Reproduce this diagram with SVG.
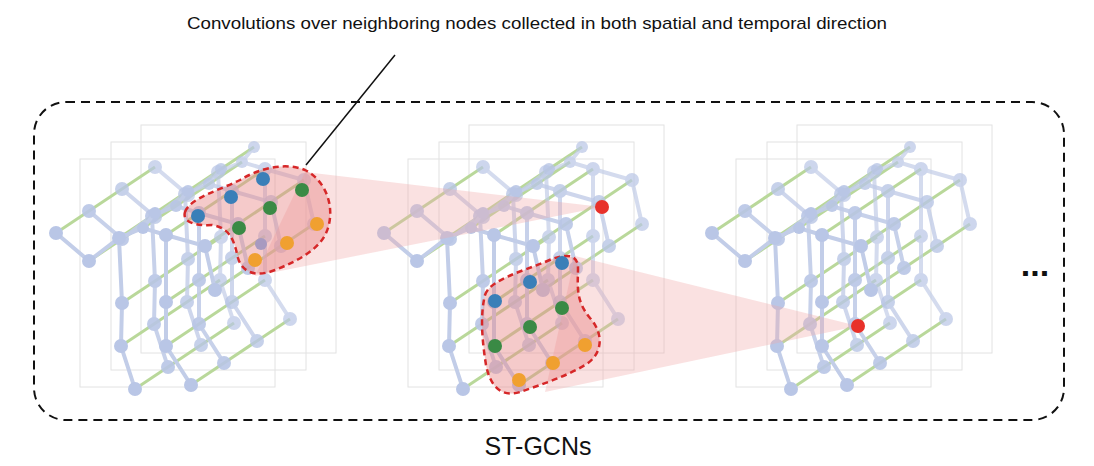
<svg xmlns="http://www.w3.org/2000/svg" xmlns:xlink="http://www.w3.org/1999/xlink" width="1094" height="466" viewBox="0 0 1094 466">
<style>
.t{font-family:"Liberation Sans",Arial,sans-serif;fill:#111}
.bone{stroke:#c2cde8;stroke-width:4;fill:none;stroke-linecap:round}
.jt{fill:#b9c6e6}
.gr{stroke:#b9d89a;stroke-width:3}
.fr{fill:none;stroke:#e2e2e2;stroke-width:1}
.reg{fill:#e88a8a;fill-opacity:0.45;stroke:#d62728;stroke-width:2.5;stroke-dasharray:6 4}
.cone{fill:#f2a8a8;fill-opacity:0.35}
</style>
<defs>
<g id="frame">
<path class="bone" d="M155,213L143,228M56,233L89,261L119,238L143,228L166,235L205,246L215,290M119,238L122,303L121,346L135,389M166,235L166,302L166,346L191,385"/>
<g class="jt">
<circle cx="155" cy="213" r="6"/><circle cx="143" cy="228" r="6"/><circle cx="119" cy="238" r="7"/><circle cx="89" cy="261" r="7"/><circle cx="56" cy="233" r="7"/><circle cx="166" cy="235" r="7"/><circle cx="205" cy="246" r="7"/><circle cx="215" cy="290" r="7"/><circle cx="122" cy="303" r="7"/><circle cx="121" cy="346" r="7"/><circle cx="135" cy="389" r="7"/><circle cx="166" cy="302" r="7"/><circle cx="166" cy="346" r="7"/><circle cx="191" cy="385" r="7"/>
</g>
</g>
<g id="stack">
<rect class="fr" x="141" y="125" width="195" height="228"/>
<rect class="fr" x="111" y="142" width="195" height="228"/>
<rect class="fr" x="80" y="159" width="195" height="228"/>
<g class="gr">
<line x1="155" y1="213" x2="254" y2="147"/><line x1="143" y1="228" x2="242" y2="162"/><line x1="119" y1="238" x2="218" y2="172"/><line x1="89" y1="261" x2="188" y2="195"/><line x1="56" y1="233" x2="155" y2="167"/><line x1="166" y1="235" x2="265" y2="169"/><line x1="205" y1="246" x2="304" y2="180"/><line x1="215" y1="290" x2="314" y2="224"/><line x1="122" y1="303" x2="221" y2="237"/><line x1="121" y1="346" x2="220" y2="280"/><line x1="135" y1="389" x2="234" y2="323"/><line x1="166" y1="302" x2="265" y2="236"/><line x1="166" y1="346" x2="265" y2="280"/><line x1="191" y1="385" x2="290" y2="319"/>
</g>
<use xlink:href="#frame" transform="translate(99,-66)" opacity="0.7"/>
<use xlink:href="#frame" transform="translate(66,-44)" opacity="0.8"/>
<use xlink:href="#frame" transform="translate(33,-22)" opacity="0.9"/>
<use xlink:href="#frame"/>
</g>
</defs>
<text class="t" x="537" y="29" font-size="17" text-anchor="middle" textLength="700" lengthAdjust="spacingAndGlyphs">Convolutions over neighboring nodes collected in both spatial and temporal direction</text>
<rect x="34" y="102" width="1030" height="318" rx="32" fill="none" stroke="#111" stroke-width="2" stroke-dasharray="9 6"/>
<g id="stack1"><use xlink:href="#stack"/></g>
<g id="stack2"><use xlink:href="#stack" transform="translate(328,0)"/></g>
<g id="stack3"><use xlink:href="#stack" transform="translate(656,0)"/></g>
<g id="connectors">
<polygon class="cone" points="305,172 602,207 255,276"/>
<polygon class="cone" points="575,256 858,326 545,392"/>
<line x1="395" y1="55" x2="306" y2="165" stroke="#111" stroke-width="1.5"/>
</g>
<g id="region1">
<path class="reg" d="M185,212 C190,198 220,190 240,180 C260,168 285,162 305,170 C325,180 335,205 328,228 C322,248 300,260 275,270 C255,278 242,272 238,258 C234,240 230,228 212,225 C195,226 182,222 185,212 Z"/>
<circle cx="198" cy="216" r="7" fill="#3a7fb8"/><circle cx="231" cy="197" r="7" fill="#3a7fb8"/><circle cx="263" cy="179" r="7" fill="#3a7fb8"/>
<circle cx="239" cy="228" r="7" fill="#3a8a45"/><circle cx="270" cy="208" r="7" fill="#3a8a45"/><circle cx="302" cy="190" r="7" fill="#3a8a45"/>
<circle cx="261" cy="244" r="6" fill="#a89ac0"/>
<circle cx="255" cy="260" r="7" fill="#f0a030"/><circle cx="287" cy="243" r="7" fill="#f0a030"/><circle cx="317" cy="224" r="7" fill="#f0a030"/>
</g>
<g id="red1"><circle cx="602" cy="207" r="7" fill="#e8312a"/></g>
<g id="region2">
<path class="reg" d="M485,295 C490,280 520,272 545,262 C562,254 578,252 578,268 C578,285 575,300 590,318 C605,335 602,355 585,365 C565,377 540,385 520,392 C500,398 490,385 486,365 C482,340 480,315 485,295 Z"/>
<circle cx="495" cy="301" r="7" fill="#3a7fb8"/><circle cx="530" cy="282" r="7" fill="#3a7fb8"/><circle cx="562" cy="263" r="7" fill="#3a7fb8"/>
<circle cx="495" cy="346" r="7" fill="#3a8a45"/><circle cx="530" cy="327" r="7" fill="#3a8a45"/><circle cx="562" cy="308" r="7" fill="#3a8a45"/>
<circle cx="519" cy="380" r="7" fill="#f0a030"/><circle cx="553" cy="363" r="7" fill="#f0a030"/><circle cx="585" cy="345" r="7" fill="#f0a030"/>
</g>
<g id="red2"><circle cx="858" cy="326" r="7" fill="#e8312a"/></g>
<text class="t" x="1035" y="276" font-size="34" font-weight="bold" text-anchor="middle">...</text>
<text class="t" x="538" y="455" font-size="25" text-anchor="middle">ST-GCNs</text>
</svg>
